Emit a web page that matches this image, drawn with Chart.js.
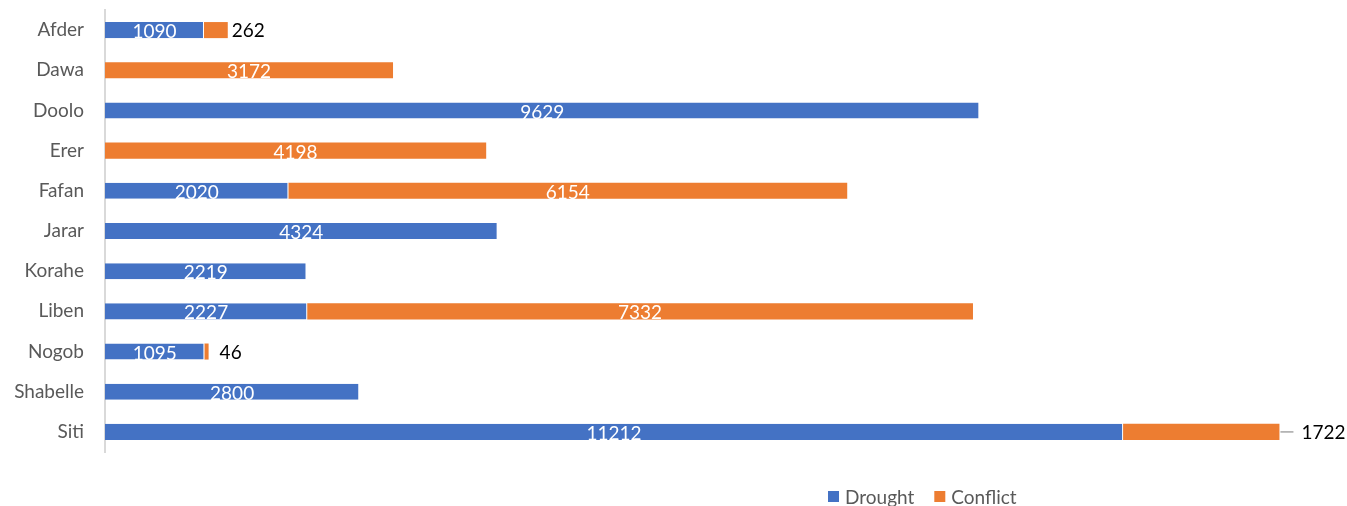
<!DOCTYPE html>
<html>
<head>
<meta charset="utf-8">
<script src="https://cdn.jsdelivr.net/npm/chart.js@4.4.0/dist/chart.umd.min.js"></script>
<style>
  html, body { margin: 0; padding: 0; background: #fff; }
  #wrap { width: 1347px; height: 506px; position: relative; }
</style>
</head>
<body>
<div id="wrap"><canvas id="myChart"></canvas></div>
<script>
const zones = ["Afder", "Dawa", "Doolo", "Erer", "Fafan", "Jarar", "Korahe", "Liben", "Nogob", "Shabelle", "Siti"];
const drought = [1090, null, 9629, null, 2020, 4324, 2219, 2227, 1095, 2800, 11212];
const conflict = [262, 3172, null, 4198, 6154, null, null, 7332, 46, null, 1722];

const FONT = "Lato, 'Open Sans', sans-serif";
const BLUE = "#4472C4";
const ORANGE = "#ED7D31";

// values drawn inside bars in white; small trailing ones go outside in black
const labelPlugin = {
  id: "barLabels",
  afterDatasetsDraw(chart) {
    const ctx = chart.ctx;
    ctx.save();
    ctx.font = "19px " + FONT;
    ctx.textBaseline = "middle";
    chart.data.datasets.forEach((ds, di) => {
      const meta = chart.getDatasetMeta(di);
      meta.data.forEach((bar, i) => {
        const v = ds.data[i];
        if (v == null) return;
        const left = Math.min(bar.x, bar.base);
        const right = Math.max(bar.x, bar.base);
        if (di === 1 && v < 2000) {
          ctx.fillStyle = "#000";
          ctx.textAlign = "left";
          if (zones[i] === "Siti") {
            ctx.strokeStyle = "#a6a6a6";
            ctx.lineWidth = 1.5;
            ctx.beginPath();
            ctx.moveTo(right + 1, bar.y);
            ctx.lineTo(right + 14, bar.y);
            ctx.stroke();
            ctx.fillText(v, right + 22, bar.y + 1);
          } else {
            ctx.fillText(v, right + (v < 100 ? 11 : 4), bar.y + 1);
          }
        } else {
          ctx.fillStyle = "#fff";
          ctx.textAlign = "center";
          ctx.fillText(v, (left + right) / 2, bar.y + 2);
        }
      });
    });
    ctx.restore();
  }
};

const legendPlugin = {
  id: "bottomLegend",
  afterDraw(chart) {
    const ctx = chart.ctx;
    ctx.save();
    ctx.font = "19px " + FONT;
    ctx.textBaseline = "middle";
    ctx.textAlign = "left";
    let x = 828;
    const y = 497;
    chart.data.datasets.forEach((ds) => {
      ctx.fillStyle = ds.backgroundColor;
      ctx.fillRect(x, y - 6, 11, 11);
      ctx.fillStyle = "#595959";
      ctx.fillText(ds.label, x + 17, y + 1);
      x += 17 + ctx.measureText(ds.label).width + 20;
    });
    ctx.restore();
  }
};

new Chart(document.getElementById("myChart"), {
  type: "bar",
  data: {
    labels: zones,
    datasets: [
      {
        label: "Drought",
        data: drought,
        backgroundColor: BLUE,
        borderColor: "#ffffff",
        borderWidth: { left: 0, right: 1, top: 0, bottom: 0 },
        borderSkipped: false,
        categoryPercentage: 1,
        barPercentage: 0.4,
      },
      {
        label: "Conflict",
        data: conflict,
        backgroundColor: ORANGE,
        borderColor: "#ffffff",
        borderWidth: 0,
        categoryPercentage: 1,
        barPercentage: 0.4,
      },
    ],
  },
  options: {
    indexAxis: "y",
    responsive: true,
    maintainAspectRatio: false,
    animation: false,
    layout: { padding: { top: 10, bottom: 54, left: 0, right: 0 } },
    plugins: {
      legend: { display: false },
      tooltip: { enabled: false },
    },
    scales: {
      x: {
        stacked: true,
        display: false,
        min: 0,
        max: 13678,
      },
      y: {
        stacked: true,
        grid: { display: false, drawTicks: false },
        border: { display: true, color: "#d9d9d9", width: 2 },
        ticks: {
          color: "#595959",
          font: { family: FONT, size: 19 },
          padding: 21,
        },
        afterFit(scale) {
          scale.width = 105;
          scale.paddingTop = 0;
          scale.paddingBottom = 0;
        },
      },
    },
  },
  plugins: [labelPlugin, legendPlugin],
});
</script>
</body>
</html>
